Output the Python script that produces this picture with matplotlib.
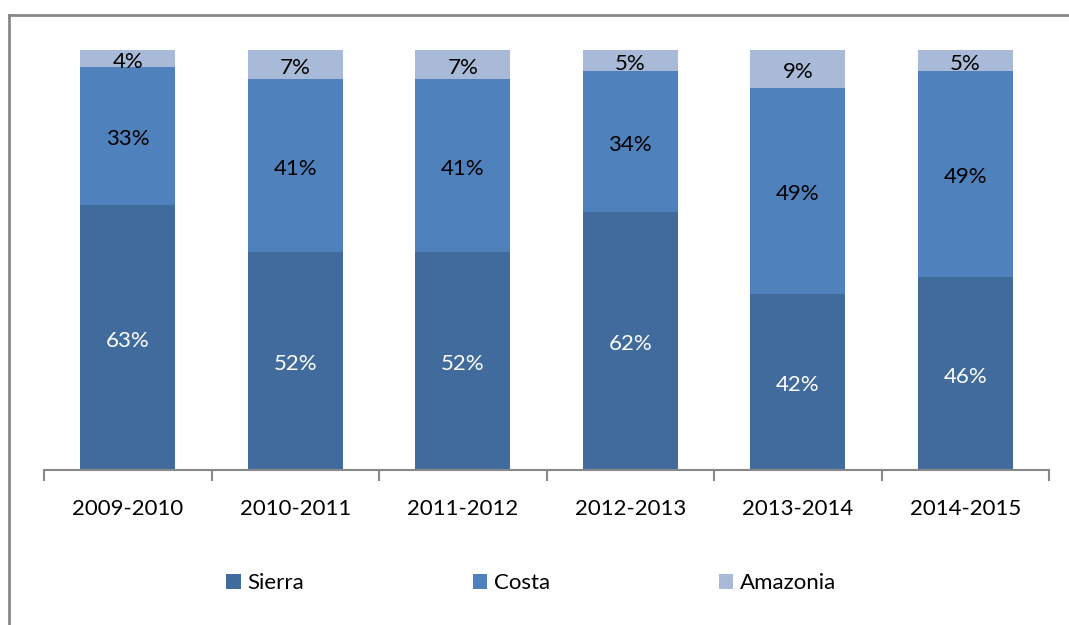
import matplotlib.pyplot as plt
import numpy as np
from matplotlib.lines import Line2D

plt.rcParams['font.family'] = ['Lato', 'DejaVu Sans']

periodos = ['2009-2010', '2010-2011', '2011-2012', '2012-2013', '2013-2014', '2014-2015']
sierra = [63, 52, 52, 62, 42, 46]
costa = [33, 41, 41, 34, 49, 49]
amazonia = [4, 7, 7, 5, 9, 5]

colores = ['#416B9C', '#4F81BD', '#A9BAD8']
nombres = ['Sierra', 'Costa', 'Amazonia']
color_texto = ['white', 'black', 'black']

fig = plt.figure(figsize=(10.69, 6.25), dpi=100)
ax = fig.add_axes([44 / 1069, 1 - 470 / 625, 1005 / 1069, 420 / 625])

# barras apiladas al 100%
datos = np.array([sierra, costa, amazonia], dtype=float)
totales = datos.sum(axis=0)
x = np.arange(len(periodos))
base = np.zeros(len(periodos))
barras = []
for i in range(3):
    alto = datos[i] / totales * 100
    b = ax.bar(x, alto, 0.567, bottom=base, color=colores[i], label=nombres[i])
    barras.append(b)
    for xi, yb, h, v in zip(x, base, alto, datos[i]):
        ax.text(xi, yb + h / 2 - 0.8, f'{int(v)}%', ha='center', va='center',
                fontsize=16, color=color_texto[i])
    base = base + alto

ax.set_xlim(-0.5, len(periodos) - 0.5)
ax.set_ylim(0, 100)
for s in ['top', 'right', 'left']:
    ax.spines[s].set_visible(False)
ax.spines['bottom'].set_color('#888888')
ax.spines['bottom'].set_linewidth(1.5)
ax.set_yticks([])
ax.set_xticks(x)
ax.set_xticklabels(periodos, fontsize=16)
ax.tick_params(axis='x', length=0, pad=21)
ax.set_xticks(np.arange(-0.5, len(periodos)), minor=True)
ax.tick_params(axis='x', which='minor', length=8, width=1.5, color='#888888', direction='out')

fig.legend(handles=barras, labels=nombres, loc='center', bbox_to_anchor=(0.497, 1 - 583 / 625),
           ncol=3, frameon=False, fontsize=16, handlelength=0.65, handleheight=0.65,
           handletextpad=0.3, columnspacing=7.6)

# marco del gráfico
fig.add_artist(Line2D([9 / 1069, 9 / 1069], [0, 1 - 15 / 625], color='#888888', lw=2))
fig.add_artist(Line2D([9 / 1069, 1], [1 - 15 / 625, 1 - 15 / 625], color='#888888', lw=2))

fig.savefig('out.png', dpi=100)
